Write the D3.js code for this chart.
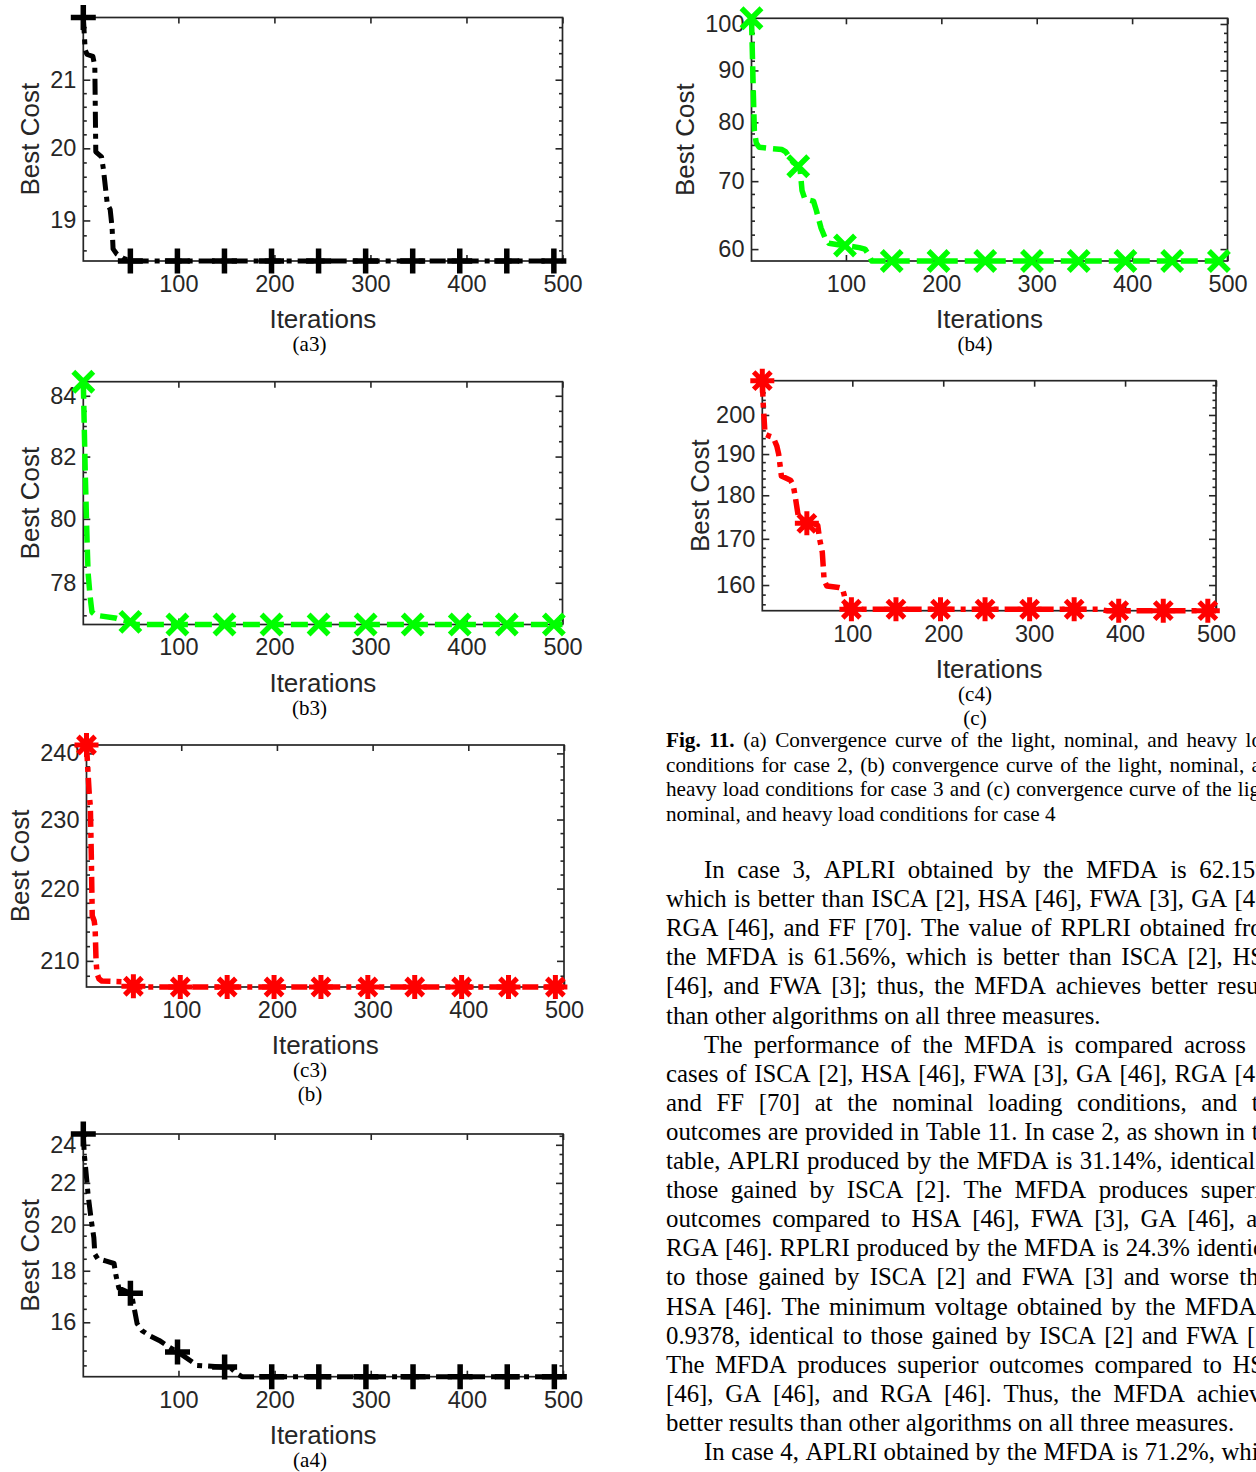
<!DOCTYPE html>
<html>
<head>
<meta charset="utf-8">
<script src="https://cdn.jsdelivr.net/npm/d3@7"></script>
<style>
  html, body { margin: 0; padding: 0; background: #fff; }
  svg { display: block; }
</style>
</head>
<body>
<svg id="page" width="1256" height="1472"></svg>
<script>
// ---------- data ----------
const xTickValues = [100, 200, 300, 400, 500];
const markerIters = [1, 50, 99, 148, 197, 246, 295, 344, 393, 442, 491];

// (a3) case 2, heavy load
const a3Iter = [1, 3, 5, 11, 13, 14, 20, 22, 26, 29, 31, 32, 36, 42, 50, 500];
const a3Cost = [21.95, 21.45, 21.38, 21.35, 21.2, 19.95, 19.88, 19.7, 19.22, 19.15, 18.9, 18.62, 18.55, 18.5, 18.46, 18.46];
const a3Mark = [21.95, 18.46, 18.46, 18.46, 18.46, 18.46, 18.46, 18.46, 18.46, 18.46, 18.46];
const a3YTicks = [19, 20, 21];

// (b4) case 3, heavy load
const b4Iter = [1, 3, 4, 6, 9, 20, 33, 37, 41, 45, 50, 52, 54, 57, 66, 69, 74, 78, 82, 92, 100, 114, 120, 124, 127, 500];
const b4Cost = [101.3, 85, 78.5, 76.3, 75.6, 75.4, 75.2, 74.8, 73.8, 73.0, 72.4, 71.8, 68.5, 67.2, 66.9, 65.5, 62.9, 61.6, 60.8, 60.6, 60.5, 60.2, 60.0, 59.2, 58.4, 58.4];
const b4Mark = [101.3, 72.4, 60.5, 58.4, 58.4, 58.4, 58.4, 58.4, 58.4, 58.4, 58.4];
const b4YTicks = [60, 70, 80, 90, 100];

// (b3) case 3, nominal load
const b3Iter = [1, 3, 5, 6, 8, 10, 14, 34, 42, 50, 56, 500];
const b3Cost = [84.47, 81.5, 79.2, 78.3, 77.6, 77.1, 77.0, 76.92, 76.85, 76.8, 76.72, 76.72];
const b3Mark = [84.47, 76.8, 76.72, 76.72, 76.72, 76.72, 76.72, 76.72, 76.72, 76.72, 76.72];
const b3YTicks = [78, 80, 82, 84];

// (c4) case 4, heavy load
const c4Iter = [1, 2, 4, 8, 13, 17, 19, 22, 28, 32, 35, 37, 41, 50, 58, 62, 64, 67, 69, 72, 85, 89, 91, 94, 370, 380, 500];
const c4Cost = [209.2, 203, 195, 194.6, 194.2, 192, 190, 184.6, 184, 183.6, 182.4, 180, 174.5, 173.5, 173.4, 173, 170, 167, 161, 159.8, 159.5, 159.3, 158, 155.0, 155.0, 154.7, 154.7];
const c4Mark = [209.2, 173.5, 155.0, 155.0, 155.0, 155.0, 155.0, 155.0, 154.7, 154.7, 154.7];
const c4YTicks = [160, 170, 180, 190, 200];

// (c3) case 4, nominal load
const c3Iter = [1, 3, 4, 5, 6, 7, 9, 10, 11, 12, 14, 17, 39, 46, 52, 500];
const c3Cost = [241.3, 236, 233.5, 232, 225, 216.2, 215.5, 214.5, 210, 208.3, 207.6, 207.3, 207.2, 206.7, 206.5, 206.5];
const c3Mark = [241.3, 206.6, 206.5, 206.5, 206.5, 206.5, 206.5, 206.5, 206.5, 206.5, 206.5];
const c3YTicks = [210, 220, 230, 240];

// (a4) case 2, nominal load
const a4Iter = [1, 2, 3, 6, 9, 12, 13, 16, 25, 33, 35, 38, 50, 52, 57, 62, 71, 80, 89, 99, 106, 115, 119, 145, 155, 160, 166, 500];
const a4Cost = [24.6, 23.5, 23.0, 21.4, 20.3, 19.4, 18.7, 18.5, 18.4, 18.3, 17.8, 17.3, 17.1, 16.9, 15.95, 15.7, 15.5, 15.35, 15.15, 14.95, 14.8, 14.6, 14.5, 14.45, 14.4, 14.25, 14.13, 14.13];
const a4Mark = [24.6, 17.1, 14.95, 14.45, 14.13, 14.13, 14.13, 14.13, 14.13, 14.13, 14.13];
const a4YTicks = [16, 18, 20, 22, 24];

// page text
const captionLines = [
  "Fig. 11. (a) Convergence curve of the light, nominal, and heavy load",
  "conditions for case 2, (b) convergence curve of the light, nominal, and",
  "heavy load conditions for case 3 and (c) convergence curve of the light,",
  "nominal, and heavy load conditions for case 4"
];
const bodyLines = [
  "In case 3, APLRI obtained by the MFDA is 62.15%,",
  "which is better than ISCA [2], HSA [46], FWA [3], GA [46],",
  "RGA [46], and FF [70]. The value of RPLRI obtained from",
  "the MFDA is 61.56%, which is better than ISCA [2], HSA",
  "[46], and FWA [3]; thus, the MFDA achieves better results",
  "than other algorithms on all three measures.",
  "The performance of the MFDA is compared across all",
  "cases of ISCA [2], HSA [46], FWA [3], GA [46], RGA [46],",
  "and FF [70] at the nominal loading conditions, and the",
  "outcomes are provided in Table 11. In case 2, as shown in the",
  "table, APLRI produced by the MFDA is 31.14%, identical to",
  "those gained by ISCA [2]. The MFDA produces superior",
  "outcomes compared to HSA [46], FWA [3], GA [46], and",
  "RGA [46]. RPLRI produced by the MFDA is 24.3% identical",
  "to those gained by ISCA [2] and FWA [3] and worse than",
  "HSA [46]. The minimum voltage obtained by the MFDA is",
  "0.9378, identical to those gained by ISCA [2] and FWA [3].",
  "The MFDA produces superior outcomes compared to HSA",
  "[46], GA [46], and RGA [46]. Thus, the MFDA achieves",
  "better results than other algorithms on all three measures.",
  "In case 4, APLRI obtained by the MFDA is 71.2%, which"
];
const bodyIndented = [0, 6, 20];
const bodyLastLines = [5, 19];

// ---------- styles & layout ----------
const SANS = "'Liberation Sans', Arial, Helvetica, sans-serif";
const SERIF = "'Liberation Serif', 'Times New Roman', serif";
const AXIS = "#262626";

const lineStyles = {
  black: { color: "#000000", dash: "16,6,5,6", width: 5, marker: "plus", size: 12.5, mw: 5.5 },
  green: { color: "#00ff00", dash: "17,7", width: 5.5, marker: "times", size: 10, mw: 5.5 },
  red:   { color: "#ff0000", dash: "16,6,5,6", width: 5.5, marker: "asterisk", size: 12, mw: 5 }
};

const panels = [
  { iters: a3Iter, cost: a3Cost, marks: a3Mark, yTicks: a3YTicks, minorStep: 0.2, style: "black",
    box: { l: 83.3, r: 562.5, t: 17.5, b: 261 }, yLabelX: 30, capX: 309.5, captions: ["(a3)"] },
  { iters: b4Iter, cost: b4Cost, marks: b4Mark, yTicks: b4YTicks, minorStep: 2, style: "green",
    box: { l: 751.5, r: 1227.5, t: 18.3, b: 261 }, yLabelX: 685, capX: 975, captions: ["(b4)"] },
  { iters: b3Iter, cost: b3Cost, marks: b3Mark, yTicks: b3YTicks, minorStep: 0.5, style: "green",
    box: { l: 83.3, r: 562.5, t: 381.7, b: 624.5 }, yLabelX: 30, capX: 309.5, captions: ["(b3)"] },
  { iters: c4Iter, cost: c4Cost, marks: c4Mark, yTicks: c4YTicks, minorStep: 2, style: "red",
    box: { l: 762.3, r: 1216, t: 380.7, b: 610.7 }, yLabelX: 700, capX: 975, captions: ["(c4)", "(c)"] },
  { iters: c3Iter, cost: c3Cost, marks: c3Mark, yTicks: c3YTicks, minorStep: 2, style: "red",
    box: { l: 86.5, r: 564, t: 745, b: 987 }, yLabelX: 20, capX: 310, captions: ["(c3)", "(b)"] },
  { iters: a4Iter, cost: a4Cost, marks: a4Mark, yTicks: a4YTicks, minorStep: 0.5, style: "black",
    box: { l: 83.3, r: 563, t: 1134, b: 1376.7 }, yLabelX: 30, capX: 310, captions: ["(a4)"] }
];

const svg = d3.select("#page");
svg.append("rect").attr("width", 1256).attr("height", 1472).attr("fill", "#fff");

function markerPath(kind, s) {
  const plus = `M${-s},0H${s}M0,${-s}V${s}`;
  const dx = s * 0.72;
  if (kind === "plus") return plus;
  if (kind === "times") return `M${-s},${-s}L${s},${s}M${-s},${s}L${s},${-s}`;
  return plus + `M${-dx},${-dx}L${dx},${dx}M${-dx},${dx}L${dx},${-dx}`;
}

function minorValues(lo, hi, step, majors) {
  const out = [];
  for (let k = Math.ceil(lo / step - 1e-9); k * step <= hi + 1e-9; k++) {
    const v = +(k * step).toFixed(6);
    if (!majors.some(m => Math.abs(m - v) < 1e-6)) out.push(v);
  }
  return out;
}

panels.forEach(p => {
  const st = lineStyles[p.style];
  const { l, r, t, b } = p.box;
  const x = d3.scaleLinear().domain([1, 500]).range([l, r]);
  const yExt = d3.extent(p.cost);
  const y = d3.scaleLog().domain(yExt).range([b, t]);
  const g = svg.append("g");

  const minors = minorValues(yExt[0], yExt[1], p.minorStep, p.yTicks);

  // axes: ticks point inward on all four sides
  const fmt = d3.format("d");
  g.append("g").attr("transform", `translate(0,${b})`)
    .call(d3.axisBottom(x).tickValues(xTickValues).tickSize(-6).tickPadding(14.3).tickFormat(fmt));
  g.append("g").attr("transform", `translate(0,${t})`)
    .call(d3.axisTop(x).tickValues(xTickValues).tickSize(-6).tickFormat(""));
  g.append("g").attr("transform", `translate(${l},0)`)
    .call(d3.axisLeft(y).tickValues(p.yTicks).tickSize(-7).tickPadding(7).tickFormat(fmt));
  g.append("g").attr("transform", `translate(${l},0)`)
    .call(d3.axisLeft(y).tickValues(minors).tickSize(-3.5).tickFormat(""));
  g.append("g").attr("transform", `translate(${r},0)`)
    .call(d3.axisRight(y).tickValues(p.yTicks).tickSize(-7).tickFormat(""));
  g.append("g").attr("transform", `translate(${r},0)`)
    .call(d3.axisRight(y).tickValues(minors).tickSize(-3.5).tickFormat(""));

  g.selectAll(".domain").remove();
  g.selectAll(".tick line").attr("stroke", AXIS).attr("stroke-width", 1.6);
  g.selectAll(".tick text").attr("fill", AXIS).attr("font-family", SANS).attr("font-size", 23.5);

  // axes box
  g.append("rect").attr("x", l).attr("y", t).attr("width", r - l).attr("height", b - t)
    .attr("fill", "none").attr("stroke", AXIS).attr("stroke-width", 1.7);

  // convergence curve
  const pts = p.iters.map((it, i) => [it, p.cost[i]]);
  g.append("path").datum(pts)
    .attr("d", d3.line().x(d => x(d[0])).y(d => y(d[1])).curve(d3.curveLinear))
    .attr("fill", "none").attr("stroke", st.color).attr("stroke-width", st.width)
    .attr("stroke-dasharray", st.dash).attr("stroke-linejoin", "round");

  // markers
  g.selectAll(".mk").data(markerIters.map((it, i) => [it, p.marks[i]])).join("path")
    .attr("transform", d => `translate(${x(d[0])},${y(d[1])})`)
    .attr("d", markerPath(st.marker, st.size))
    .attr("fill", "none").attr("stroke", st.color).attr("stroke-width", st.mw)
    .attr("stroke-linecap", "butt");

  // axis labels
  g.append("text").attr("x", (l + r) / 2).attr("y", b + 67)
    .attr("text-anchor", "middle").attr("font-family", SANS).attr("font-size", 26)
    .attr("fill", AXIS).text("Iterations");
  const cy = (t + b) / 2;
  g.append("text").attr("transform", `translate(${p.yLabelX + 26 * 0.358},${cy}) rotate(-90)`)
    .attr("text-anchor", "middle").attr("font-family", SANS).attr("font-size", 26)
    .attr("fill", AXIS).text("Best Cost");

  // sub-figure captions
  p.captions.forEach((c, i) => {
    g.append("text").attr("x", p.capX).attr("y", b + 90 + i * 24.3)
      .attr("text-anchor", "middle").attr("font-family", SERIF).attr("font-size", 21)
      .attr("fill", "#000").text(c);
  });
});

// ---------- column text (justified, running past the right page edge) ----------
const COL_X = 666, COL_END = 1282, INDENT = 38;

function setLine(x0, x1, baseline, text, fontSize, justify, boldWords) {
  const words = text.split(" ");
  const t = svg.append("text").attr("y", baseline)
    .attr("font-family", SERIF).attr("font-size", fontSize).attr("fill", "#000");
  const spans = words.map((w, i) => t.append("tspan").text(w)
    .attr("font-weight", i < boldWords ? "bold" : null));
  const widths = spans.map(s => s.node().getComputedTextLength());
  const total = d3.sum(widths);
  const gap = justify && words.length > 1 ? (x1 - x0 - total) / (words.length - 1) : fontSize * 0.25;
  let cx = x0;
  spans.forEach((s, i) => { s.attr("x", cx); cx += widths[i] + gap; });
}

captionLines.forEach((line, i) => {
  setLine(COL_X, COL_END, 747 + i * 24.5, line, 21.2, i < captionLines.length - 1, i === 0 ? 2 : 0);
});

bodyLines.forEach((line, i) => {
  const x0 = bodyIndented.includes(i) ? COL_X + INDENT : COL_X;
  const justify = !bodyLastLines.includes(i);
  setLine(x0, COL_END, 878 + i * 29.1, line, 24.8, justify, 0);
});
</script>
</body>
</html>
